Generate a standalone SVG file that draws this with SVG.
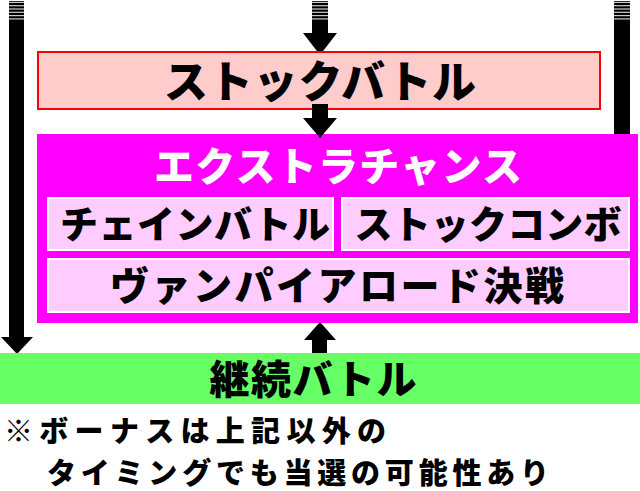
<svg xmlns="http://www.w3.org/2000/svg" width="640" height="491" viewBox="0 0 640 491">
<style>
.t{font-family:"Noto Sans CJK JP","Noto Sans",sans-serif;font-weight:900;text-anchor:middle}
.blk{fill:#000}
.wl{fill:#fff;opacity:0.8}
</style>
<defs>
<g id="stripes">
<rect x="0" y="1.8" width="16" height="1.2" class="wl"/>
<rect x="0" y="5.1" width="16" height="1.2" class="wl"/>
<rect x="0" y="8.4" width="16" height="1.2" class="wl"/>
<rect x="0" y="11.7" width="16" height="1.2" class="wl"/>
<rect x="0" y="15" width="16" height="1.2" class="wl"/>
<rect x="0" y="18.3" width="16" height="1.2" class="wl"/>
</g>
</defs>
<rect width="640" height="491" fill="#fff"/>
<g id="connectors">
<rect x="9" y="1" width="15" height="337" class="blk"/>
<use href="#stripes" x="9"/>
<polygon points="1,337 33,337 17,354" class="blk"/>
<rect x="312" y="1" width="16" height="34" class="blk"/>
<use href="#stripes" x="312"/>
<polygon points="303,33 337,33 320,55" class="blk"/>
<rect x="614" y="1" width="16" height="137" class="blk"/>
<use href="#stripes" x="614"/>
</g>
<g id="stock-battle">
<rect x="38" y="52" width="562" height="57" fill="#FFCCCC" stroke="#FF0000" stroke-width="2"/>
<text x="320" y="98" class="t" font-size="44" textLength="312">ストックバトル</text>
</g>
<g id="extra-chance">
<rect x="37" y="134" width="601" height="189" fill="#FF00FF"/>
<text x="338" y="181" class="t" font-size="40" fill="#fff" textLength="368">エクストラチャンス</text>
</g>
<g id="chain-battle">
<rect x="48" y="198" width="285" height="52" fill="#FFCCFF" stroke="#fff" stroke-width="2"/>
<text x="195" y="238" class="t" font-size="38" textLength="270">チェインバトル</text>
</g>
<g id="stock-combo">
<rect x="342" y="198" width="287" height="52" fill="#FFCCFF" stroke="#fff" stroke-width="2"/>
<text x="488" y="238" class="t" font-size="38" textLength="267">ストックコンボ</text>
</g>
<g id="vampire-road">
<rect x="48" y="259" width="581" height="53" fill="#FFCCFF" stroke="#fff" stroke-width="2"/>
<text x="337" y="300" class="t" font-size="39" textLength="454">ヴァンパイアロード決戦</text>
</g>
<g id="connectors-2">
<rect x="312" y="104" width="16" height="15" class="blk"/>
<polygon points="303,118 337,118 320,138" class="blk"/>
<rect x="312" y="339" width="15" height="15" class="blk"/>
<polygon points="304,340 336,340 320,322" class="blk"/>
</g>
<g id="keizoku-battle">
<rect x="0" y="353" width="640" height="51" fill="#66FF66"/>
<text x="313" y="394" class="t" font-size="40" textLength="207">継続バトル</text>
</g>
<g id="note">
<text class="t" font-size="29" style="text-anchor:start"><tspan x="4" y="442" textLength="382">※ボーナスは上記以外の</tspan><tspan x="47" y="484" textLength="502">タイミングでも当選の可能性あり</tspan></text>
</g>
</svg>
